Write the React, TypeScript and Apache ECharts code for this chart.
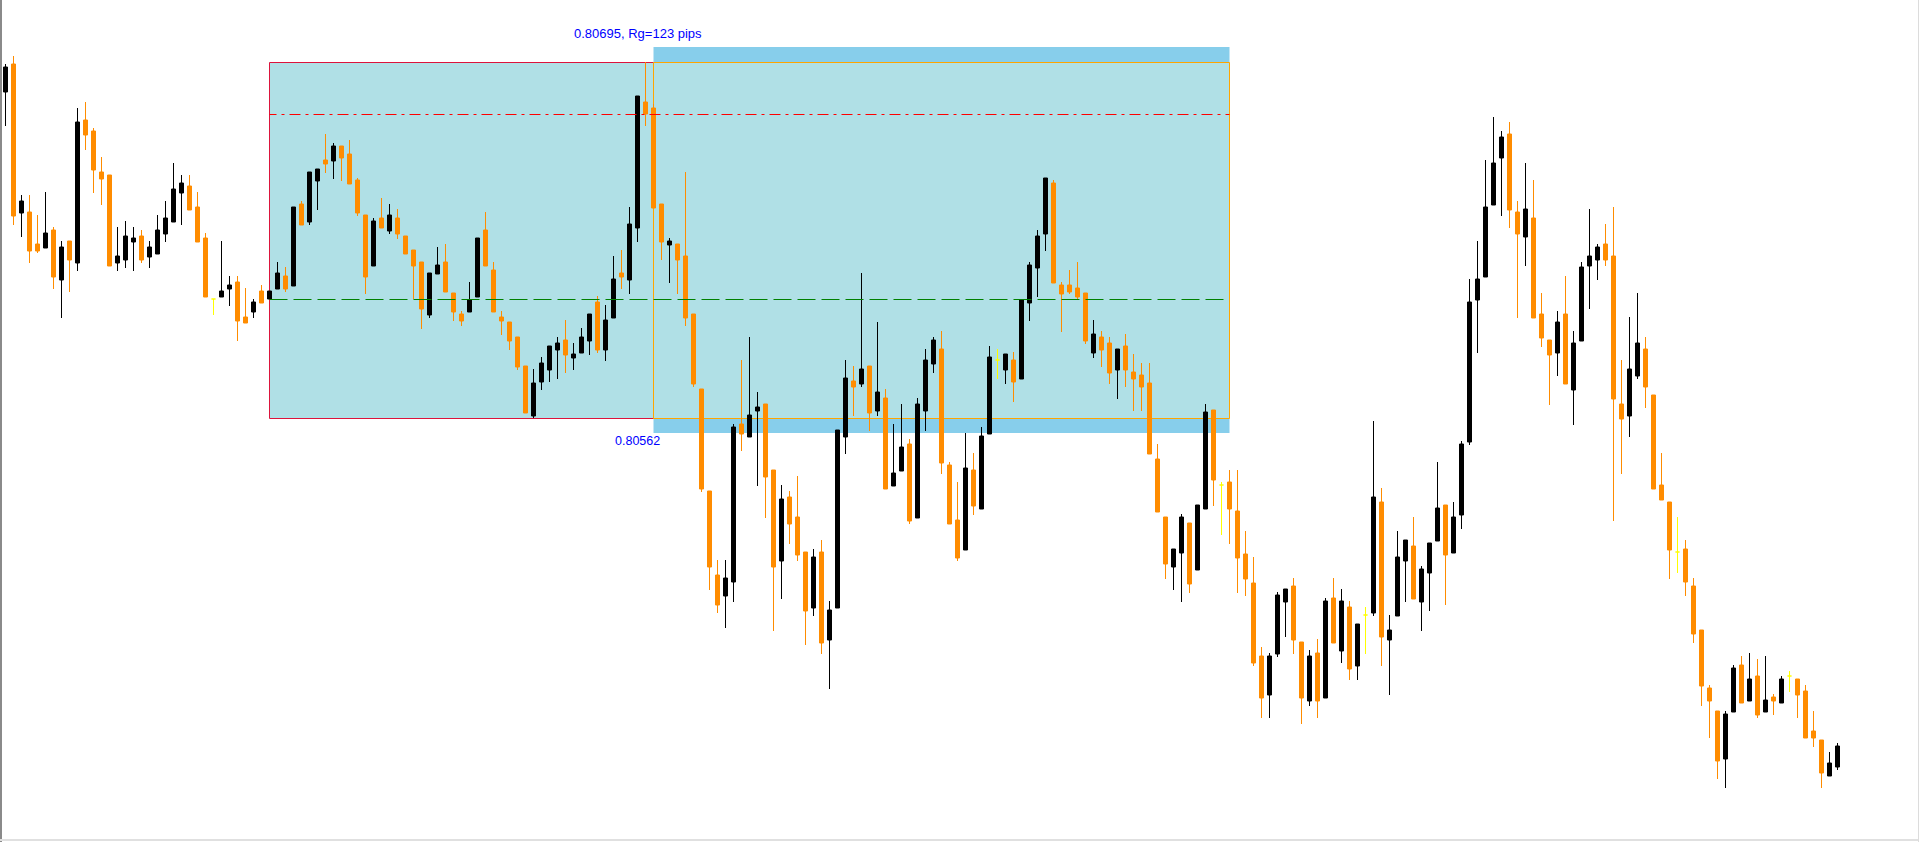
import React, { useEffect, useRef } from "react";
import * as echarts from "echarts";

// Prices are in points above 0.80000 (chart units).
const opens = [
  908, 936, 787, 788, 756, 752, 770, 720, 759, 737,
  880, 869, 828, 825, 737, 740, 758, 764, 743, 746,
  766, 778, 807, 814, 793, 762, 701, 703, 711, 718,
  683, 688, 709, 701, 711, 724, 714, 796, 778, 819,
  840, 839, 854, 846, 820, 785, 734, 782, 769, 782,
  764, 750, 738, 685, 726, 738, 707, 686, 688, 703,
  770, 730, 683, 678, 663, 634, 584, 618, 630, 650,
  660, 642, 647, 659, 698, 650, 682, 727, 720, 772,
  898, 892, 796, 755, 756, 744, 686, 611, 509, 425,
  404, 418, 576, 563, 589, 596, 530, 439, 503, 483,
  448, 392, 448, 360, 392, 563, 619, 616, 634, 589,
  602, 514, 529, 556, 482, 589, 636, 651, 535, 480,
  450, 530, 491, 566, 640, 630, 640, 621, 697, 732,
  766, 817, 715, 715, 712, 707, 647, 663, 657, 630,
  654, 628, 625, 617, 541, 483, 433, 447, 477, 430,
  491, 590, 515, 518, 489, 446, 417, 344, 305, 346,
  398, 414, 358, 299, 347, 302, 402, 349, 393, 334,
  385, 387, 498, 360, 384, 439, 454, 398, 427, 459,
  495, 447, 485, 558, 700, 723, 795, 842, 866, 788,
  763, 782, 686, 660, 647, 686, 610, 659, 734, 740,
  756, 744, 596, 584, 624, 651, 605, 515, 498, 448,
  451, 414, 370, 312, 289, 241, 288, 335, 299, 324,
  288, 303, 297, 324, 321, 309, 269, 260, 224, 233,
];

const closes = [
  933, 784, 799, 749, 749, 767, 723, 753, 740, 878,
  865, 830, 821, 734, 744, 764, 762, 740, 753, 770,
  782, 811, 817, 790, 758, 703, 701, 709, 715, 679,
  677, 698, 697, 709, 727, 711, 793, 775, 828, 831,
  836, 854, 842, 816, 787, 723, 779, 772, 785, 766,
  746, 734, 691, 727, 735, 708, 688, 679, 700, 762,
  734, 688, 679, 659, 633, 587, 617, 637, 654, 657,
  645, 646, 663, 686, 650, 680, 721, 723, 776, 904,
  886, 792, 758, 759, 740, 682, 616, 511, 433, 395,
  422, 573, 566, 585, 593, 523, 433, 501, 476, 445,
  389, 443, 357, 390, 570, 622, 613, 631, 587, 608,
  511, 527, 553, 479, 596, 640, 660, 537, 476, 442,
  532, 494, 564, 643, 640, 646, 618, 700, 735, 764,
  822, 717, 706, 708, 703, 659, 666, 650, 627, 651,
  630, 621, 613, 546, 488, 436, 451, 483, 416, 495,
  588, 520, 515, 491, 442, 421, 337, 302, 344, 405,
  411, 360, 302, 344, 299, 399, 357, 399, 331, 376,
  385, 503, 363, 370, 443, 460, 401, 431, 457, 492,
  445, 483, 556, 698, 721, 793, 837, 863, 790, 766,
  791, 682, 662, 645, 678, 616, 657, 733, 744, 753,
  740, 601, 581, 631, 657, 613, 511, 500, 450, 448,
  418, 366, 314, 299, 239, 286, 332, 297, 321, 285,
  300, 299, 321, 324, 305, 262, 262, 227, 237, 254,
];

const lows = [
  874, 775, 763, 737, 747, 752, 711, 682, 708, 729,
  850, 807, 795, 734, 729, 732, 729, 737, 732, 746,
  758, 778, 775, 790, 758, 703, 685, 703, 694, 659,
  677, 682, 697, 701, 711, 708, 714, 775, 775, 790,
  827, 821, 819, 816, 784, 706, 734, 772, 766, 761,
  746, 701, 671, 682, 726, 708, 679, 674, 688, 703,
  734, 688, 665, 650, 630, 587, 582, 610, 618, 621,
  627, 630, 647, 645, 647, 639, 682, 711, 706, 758,
  874, 792, 740, 717, 706, 674, 613, 508, 410, 387,
  372, 398, 549, 563, 514, 482, 369, 401, 456, 439,
  355, 384, 346, 311, 392, 546, 584, 613, 569, 584,
  511, 514, 529, 476, 482, 569, 627, 526, 476, 439,
  450, 485, 491, 566, 621, 616, 598, 621, 679, 703,
  749, 717, 668, 706, 701, 656, 642, 633, 616, 601,
  613, 589, 589, 546, 488, 421, 410, 398, 407, 430,
  491, 494, 465, 456, 407, 404, 334, 282, 282, 343,
  363, 346, 276, 294, 282, 302, 357, 337, 320, 320,
  346, 384, 334, 305, 384, 398, 401, 369, 389, 459,
  395, 447, 471, 555, 647, 723, 795, 784, 772, 682,
  734, 682, 653, 595, 624, 616, 575, 659, 691, 720,
  734, 479, 526, 563, 621, 592, 511, 500, 421, 427,
  404, 357, 294, 262, 221, 212, 288, 297, 299, 282,
  288, 285, 297, 308, 282, 262, 253, 212, 224, 230,
];

const highs = [
  936, 944, 805, 805, 785, 808, 773, 759, 759, 892,
  898, 872, 843, 825, 773, 779, 773, 770, 759, 785,
  799, 837, 825, 825, 808, 767, 701, 759, 724, 724,
  712, 701, 715, 709, 738, 733, 793, 799, 828, 831,
  866, 857, 854, 860, 822, 785, 782, 802, 796, 791,
  764, 750, 738, 727, 753, 756, 707, 689, 718, 762,
  788, 738, 689, 678, 663, 634, 631, 643, 654, 663,
  680, 657, 672, 686, 704, 695, 744, 750, 793, 904,
  938, 896, 796, 762, 756, 828, 686, 611, 509, 440,
  440, 576, 640, 663, 608, 596, 530, 515, 509, 524,
  448, 451, 460, 399, 570, 640, 634, 727, 634, 678,
  611, 576, 596, 561, 602, 651, 663, 669, 538, 518,
  567, 547, 573, 654, 651, 646, 648, 700, 738, 770,
  822, 820, 718, 730, 738, 707, 680, 669, 663, 651,
  666, 646, 637, 637, 556, 483, 451, 486, 477, 495,
  596, 590, 518, 530, 530, 469, 443, 353, 347, 408,
  411, 422, 358, 350, 361, 402, 422, 411, 399, 376,
  393, 579, 512, 385, 469, 460, 483, 434, 457, 538,
  495, 498, 559, 721, 759, 840, 883, 869, 878, 799,
  837, 820, 707, 660, 689, 724, 669, 738, 791, 756,
  776, 793, 640, 683, 707, 663, 605, 547, 498, 483,
  460, 422, 370, 315, 289, 289, 335, 344, 347, 341,
  344, 306, 324, 329, 321, 315, 289, 260, 248, 257,
];

const barLabels = opens.map((_, i) => String(i + 1));

// Drawn objects (bar indices and price levels)
const firstBoxStartBar = 33;
const firstBoxEndBar = 81;
const secondBoxEndBar = 153;
const boxHigh = 937.5;
const boxLow = 581.5;
const zoneHigh = 953;
const zoneLow = 567;
const upperLevel = 885.5;
const midLevel = 700.5;
const rangeText = "0.80695, Rg=123 pips";
const lowText = "0.80562";

const BULL = "#000000";
const BEAR = "#FF8C00";
const DOJI = "#FFFF00";

export default function App() {
  const ref = useRef<HTMLDivElement>(null);

  useEffect(() => {
    if (!ref.current) return;
    const chart = echarts.init(ref.current, undefined, { renderer: "svg" });

    const candleData = opens.map((o, i) => {
      const item: any = { value: [o, closes[i], lows[i], highs[i]] };
      if (o === closes[i]) {
        item.itemStyle = {
          color: DOJI,
          color0: DOJI,
          borderColor: DOJI,
          borderColor0: DOJI,
          borderColorDoji: DOJI,
        };
      }
      return item;
    });

    const option: any = {
      animation: false,
      backgroundColor: "#ffffff",
      grid: { left: 1.5, top: 0, width: 1840, height: 842 },
      xAxis: {
        type: "category",
        data: barLabels,
        show: false,
        boundaryGap: true,
      },
      yAxis: {
        type: "value",
        min: 158,
        max: 1000,
        show: false,
        splitLine: { show: false },
      },
      series: [
        {
          type: "candlestick",
          data: candleData,
          barWidth: 4,
          silent: true,
          itemStyle: {
            color: BULL,
            color0: BEAR,
            borderColor: BULL,
            borderColor0: BEAR,
            borderWidth: 1,
          },
          markArea: {
            silent: true,
            label: { show: false },
            data: [
              [
                { coord: [firstBoxEndBar, zoneHigh], itemStyle: { color: "#87CEEB", borderWidth: 0 } },
                { coord: [secondBoxEndBar, zoneLow] },
              ],
              [
                {
                  coord: [firstBoxStartBar, boxHigh],
                  itemStyle: { color: "#B0E0E6", borderColor: "#DC143C", borderWidth: 1 },
                },
                { coord: [firstBoxEndBar, boxLow] },
              ],
              [
                {
                  coord: [firstBoxEndBar, boxHigh],
                  itemStyle: { color: "#B0E0E6", borderColor: "#FFA500", borderWidth: 1 },
                },
                { coord: [secondBoxEndBar, boxLow] },
              ],
            ],
          },
          markLine: {
            silent: true,
            symbol: ["none", "none"],
            label: { show: false },
            data: [
              [
                {
                  coord: [firstBoxStartBar, upperLevel],
                  lineStyle: { color: "#FF0000", width: 1, type: [11, 5, 3, 5], dashOffset: 4 },
                },
                { coord: [secondBoxEndBar, upperLevel] },
              ],
              [
                {
                  coord: [firstBoxStartBar, midLevel],
                  lineStyle: { color: "#008000", width: 1, type: [18, 6] },
                },
                { coord: [secondBoxEndBar, midLevel] },
              ],
            ],
          },
        },
      ],
      graphic: [
        {
          type: "text",
          x: 574,
          y: 33,
          style: {
            text: rangeText,
            fill: "#0000FF",
            font: '13px "Liberation Sans", Arial, sans-serif',
            verticalAlign: "middle",
            align: "left",
          },
        },
        {
          type: "text",
          x: 615,
          y: 441,
          style: {
            text: lowText,
            fill: "#0000FF",
            font: '12.5px "Liberation Sans", Arial, sans-serif',
            verticalAlign: "middle",
            align: "left",
          },
        },
        { type: "rect", shape: { x: 0, y: 0, width: 2, height: 842 }, style: { fill: "#8a8a8a" } },
        { type: "rect", shape: { x: 0, y: 839, width: 1919, height: 2 }, style: { fill: "#e0e0e0" } },
        { type: "rect", shape: { x: 1918, y: 0, width: 1, height: 842 }, style: { fill: "#dcdcdc" } },
      ],
    };

    chart.setOption(option);
    return () => chart.dispose();
  }, []);

  return (
    <div
      ref={ref}
      style={{ position: "absolute", left: 0, top: 0, width: 1919, height: 842, background: "#fff" }}
    />
  );
}
